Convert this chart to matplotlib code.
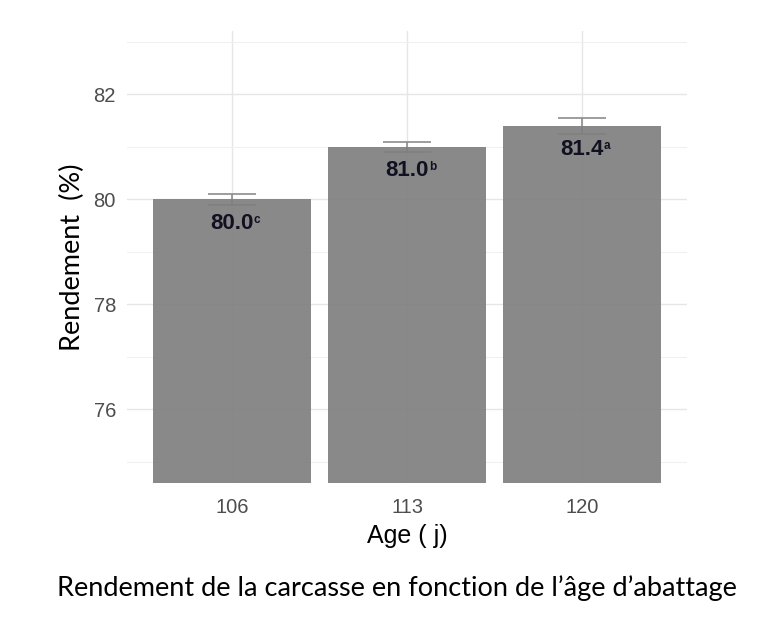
import numpy as np
import matplotlib.pyplot as plt

# Data
ages = ['106', '113', '120']
rendement = [80.0, 81.0, 81.4]
erreur = [0.1, 0.1, 0.15]
lettres = ['c', 'b', 'a']

fig = plt.figure(figsize=(7.67, 6.22), dpi=100)
ax = fig.add_axes([0.1656, 0.2235, 0.7301, 0.726])

x = np.arange(1, len(ages) + 1)

# grid like ggplot theme_minimal
ax.set_axisbelow(True)
ax.set_yticks([76, 78, 80, 82])
ax.set_yticks([75, 77, 79, 81, 83], minor=True)
ax.grid(True, which='major', color='#e6e6e6', linewidth=1.0)
ax.grid(True, which='minor', axis='y', color='#f0f0f0', linewidth=0.8)

ax.errorbar(x, rendement, yerr=erreur, fmt='none', ecolor='#8c8c8c',
            elinewidth=1.2, capsize=17, capthick=1.2, zorder=2)
ax.bar(x, rendement, width=0.9, bottom=0, color='#7f7f7f', alpha=0.92,
       zorder=3)

for xi, v, l in zip(x, rendement, lettres):
    t = ax.text(xi, v - 0.45, f'{v:.1f}', ha='center', va='center',
                fontsize=16, fontweight='bold', color='#111122',
                family='Liberation Sans', zorder=5)
    ax.annotate(l, xy=(1, 0.95), xycoords=t, xytext=(0.2, 0),
                textcoords='offset points', ha='left', va='top',
                fontsize=8.5, fontweight='bold', color='#111122',
                family='Liberation Sans', zorder=5)

ax.set_xlim(0.4, 3.6)
ax.set_ylim(74.6, 83.2)
ax.set_xticks(x)
ax.set_xticklabels(ages)

for s in ax.spines.values():
    s.set_visible(False)
ax.tick_params(which='both', length=0, labelsize=14.5, labelcolor='#4d4d4d')
ax.tick_params(axis='x', pad=11)
ax.tick_params(axis='y', pad=8)
for lab in ax.get_xticklabels() + ax.get_yticklabels():
    lab.set_family('Liberation Sans')

ax.set_xlabel('Age ( j)', fontsize=18, family='Liberation Sans', labelpad=5)
ax.set_ylabel('Rendement  (%)', fontsize=19.5, family='Lato', labelpad=6)

fig.text(0.517, 0.055, 'Rendement de la carcasse en fonction de l\u2019\u00e2ge d\u2019abattage',
         ha='center', va='center', fontsize=19.5, family='Lato', color='black')

fig.savefig('out.png', dpi=100)
